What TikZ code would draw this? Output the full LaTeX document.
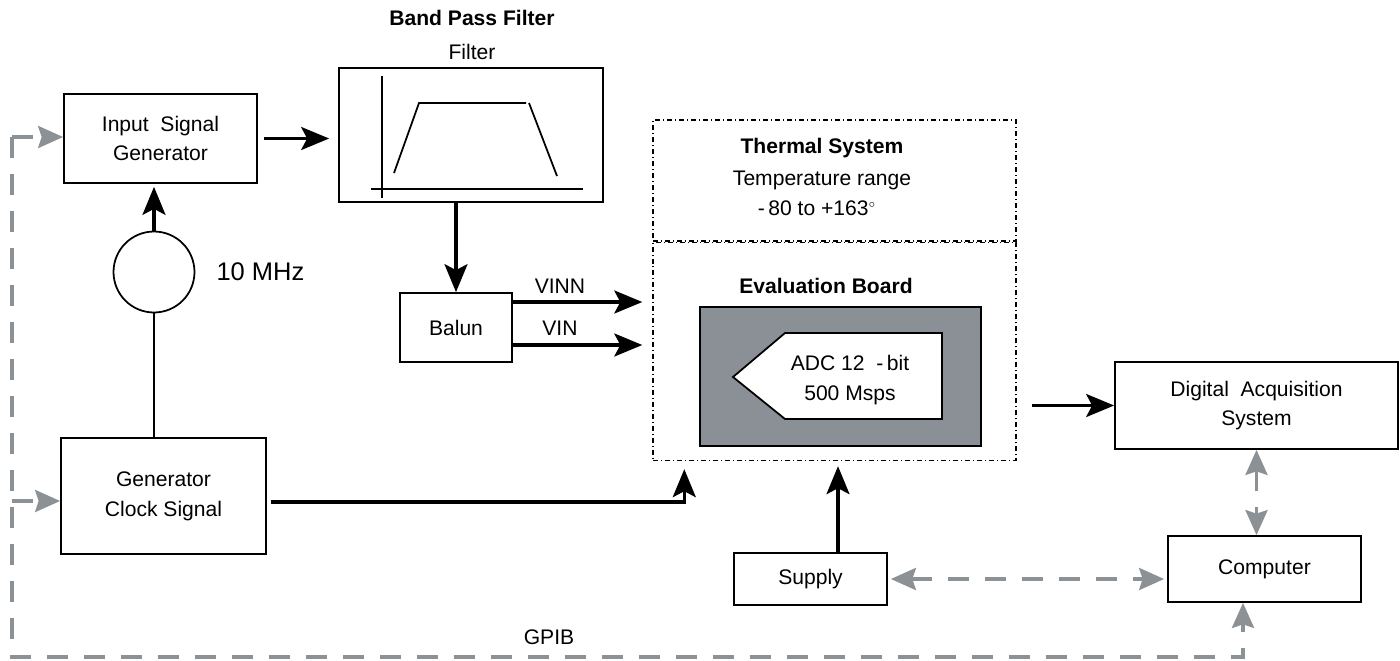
\documentclass[tikz,border=0pt]{standalone}
\usepackage{fontspec}
\setmainfont{Liberation Sans}
\usepackage{tikz}
\usetikzlibrary{arrows.meta,positioning,calc}
\definecolor{busgray}{HTML}{8C9196}
\definecolor{boardgray}{HTML}{8A9096}

\begin{document}
\begin{tikzpicture}[x=0.02cm,y=-0.02cm,every node/.style={font=\fontsize{12}{17}\selectfont,align=center},box/.style={draw,line width=1pt,inner sep=0pt},arr/.style={-{Stealth[length=0.56cm,width=0.46cm,inset=0.12cm]},line width=1.8pt},link/.style={line width=1.6pt},bus/.style={busgray,line width=2pt,dash pattern=on 0.42cm off 0.32cm,-{Stealth[length=0.5cm,width=0.44cm,inset=0.07cm]}},bus2/.style={bus,{Stealth[length=0.5cm,width=0.44cm,inset=0.07cm]}-{Stealth[length=0.5cm,width=0.44cm,inset=0.07cm]}},frame/.style={draw,line width=0.85pt,dash pattern=on 0.1cm off 0.06cm on 0.02cm off 0.06cm,inner sep=0pt},boldlbl/.style={font=\fontsize{12}{14}\selectfont\bfseries}]
\useasboundingbox (0,0) rectangle (1400,660);
\node[box,minimum width=3.86cm,minimum height=1.78cm] (input) at (160.5,138.5) {Input~ Signal\\Generator};
\node[box,minimum width=5.28cm,minimum height=2.68cm] (filter) at (471,135) {};
\node[boldlbl] (bpf) at (472,18) {Band Pass Filter};
\node (flt) at (472,52) {Filter};
\draw[line width=1pt] (382,76) -- (382,198) (371,189) -- (583,189);
\draw[line width=1pt] (394,173) -- (419,103) -- (526,103) (529,103) -- (557,176);
\node[box,minimum width=2.24cm,minimum height=1.38cm] (balun) at (456,327.5) {Balun};
\node[draw,circle,line width=1pt,minimum size=1.62cm] (osc) at (154,272) {};
\node[font=\fontsize{14.5}{16}\selectfont,right=0.3cm of osc] (freq) {10 MHz};
\node[box,minimum width=4.1cm,minimum height=2.32cm] (clock) at (163.5,496) {Generator\\Clock Signal};
\node[frame,minimum width=7.26cm,minimum height=2.42cm] (thermal) at (834.5,180.5) {};
\node[frame,minimum width=7.26cm,minimum height=4.36cm,below=0pt of thermal] (evalb) {};
\node[boldlbl] (thlbl) at (822,148) {Thermal System};
\node (trange) at (822,180) {Temperature range};
\node (tval) at (817,208) {-\,80 to +163$^{\scriptscriptstyle\circ}$};
\node[boldlbl] (evlbl) at (826,286) {Evaluation Board};
\node[draw,line width=1pt,fill=boardgray,minimum width=5.62cm,minimum height=2.78cm] (board) at (840.5,376.5) {};
\draw[line width=1pt,fill=white] (733,377) -- (785,333) -- (942,333) -- (942,419) -- (785,419) -- cycle;
\node (adc) at (850,380) {ADC 12~ -\,bit\\500 Msps};
\node[box,minimum width=5.66cm,minimum height=1.74cm] (das) at (1256.5,405.5) {Digital~ Acquisition\\System};
\node[box,minimum width=3.06cm,minimum height=1.04cm] (supply) at (810.5,579) {Supply};
\node[box,minimum width=3.86cm,minimum height=1.32cm] (computer) at (1264.5,569) {Computer};
\node (gpiblbl) at (549,637) {GPIB};
\node (vinn) at (560,286) {VINN};
\node (vin) at (560,328) {VIN};
\draw[arr,shorten <=0.12cm,shorten >=0.18cm] (input.east) -- (input.east -| filter.west);
\draw[arr] (balun.north |- filter.south) -- (balun.north);
\draw[arr,shorten >=0.2cm] ($(balun.east)+(0,-25.5)$) -- ($(balun.east -| evalb.west)+(0,-25.5)$);
\draw[arr,shorten >=0.2cm] ($(balun.east)+(0,17.5)$) -- ($(balun.east -| evalb.west)+(0,17.5)$);
\draw[arr,shorten >=0.06cm] (osc.north) -- (osc.north |- input.south);
\draw[link] (osc.south) -- (osc.south |- clock.north);
\draw[arr,shorten <=0.08cm,shorten >=0.16cm] ($(clock.east)+(0,6)$) -| ($(evalb.south west)+(32,0)$);
\draw[arr,shorten <=0.3cm] (das.west -| evalb.east) -- (das.west);
\draw[arr,shorten >=0.1cm] ($(supply.north)+(27.5,0)$) -- ($(supply.north |- evalb.south)+(27.5,0)$);
\draw[bus2,shorten <=0.06cm,shorten >=0.06cm] (supply.east) -- (supply.east -| computer.west);
\draw[bus2] (das.south) -- (das.south |- computer.north);
\coordinate (gl) at (12,137);
\coordinate (gc) at (12,501);
\coordinate (gb) at (12,657);
\draw[bus] (gl) -- (gb) -| ($(computer.south)+(-21.5,0)$);
\draw[bus] (gl) -- (gl -| input.west);
\draw[bus] (gc) -- (gc -| clock.west);
\end{tikzpicture}
\end{document}
